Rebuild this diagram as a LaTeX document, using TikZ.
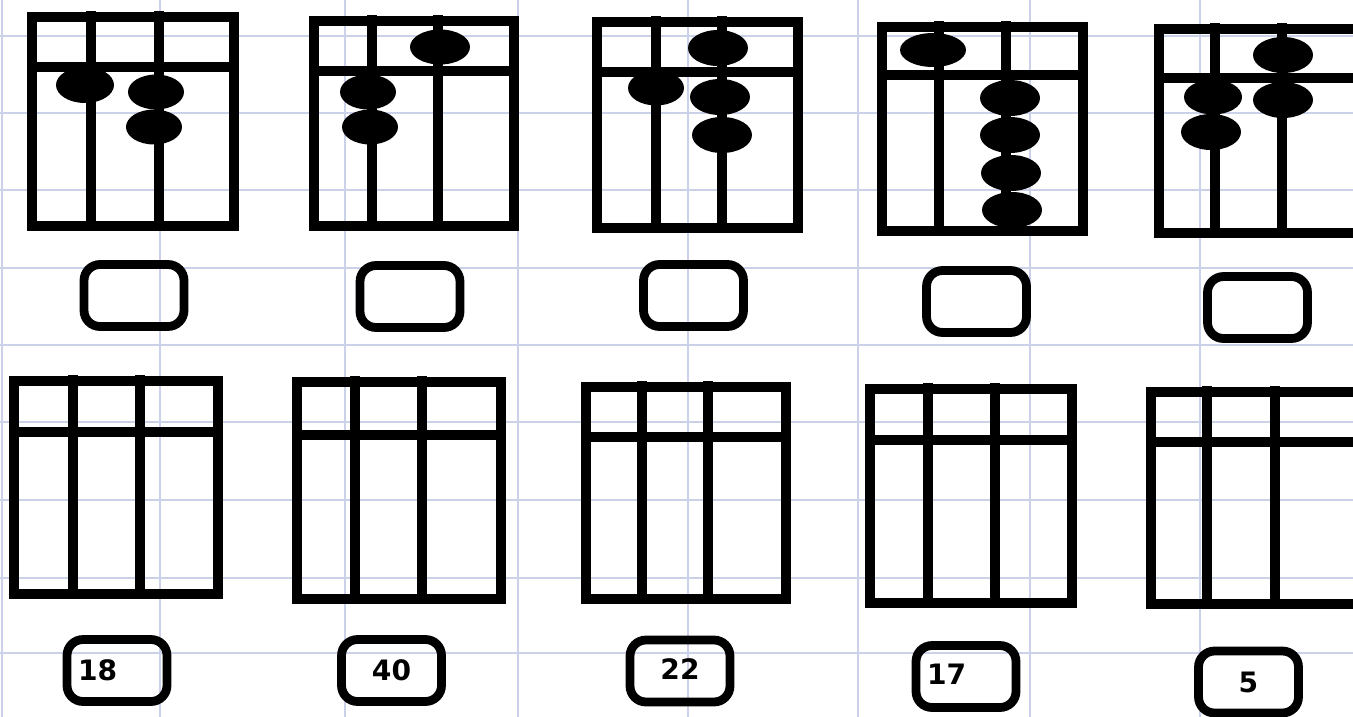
\documentclass[tikz,border=0pt]{standalone}
\usepackage{fontspec}
\setmainfont{DejaVu Sans}
\definecolor{SheetGrid}{RGB}{204,209,234}
\definecolor{InkBlack}{RGB}{0,0,0}
% frame: left, top, right, bottom, bar, rod a, rod b
\newcommand{\abacusframe}[7]{%
  \draw[frameline] (#1,#2) rectangle (#3,#4);
  \draw[frameline] (#1,#5) -- (#3,#5);
  \draw[frameline] (#6,#2-6) -- (#6,#4+4);
  \draw[frameline] (#7,#2-6) -- (#7,#4+4);
}
\begin{document}
\begin{tikzpicture}[
  x=0.02cm,y=-0.02cm,
  gridline/.style={draw=SheetGrid,line width=1.2pt},
  frameline/.style={draw=InkBlack,line width=5.5pt},
  bead/.style={fill=InkBlack},
  answerbox/.style={draw=InkBlack,line width=5pt,rounded corners=0.32cm,minimum width=2cm,minimum height=1.24cm,inner sep=0pt,font=\fontsize{16}{16}\selectfont\bfseries}
]
\useasboundingbox (0,0) rectangle (1353,717);
\clip (0,0) rectangle (1353,717);
\fill[white] (0,0) rectangle (1353,717);
% sheet grid
\foreach \gx in {2,160,345,518,688,858,1030,1200}
  \draw[gridline] (\gx,0) -- (\gx,717);
\foreach \gy in {36,113,190,268,345,422,500,578,653}
  \draw[gridline] (0,\gy) -- (1353,\gy);
% top row: abacus with beads
\abacusframe{32}{17}{234}{226}{67}{91}{159}
\fill[bead] (85,85) ellipse (0.58cm and 0.36cm);
\fill[bead] (156,92) ellipse (0.56cm and 0.35cm);
\fill[bead] (154,127) ellipse (0.56cm and 0.35cm);
\abacusframe{314}{21}{514}{226}{71}{372}{438}
\fill[bead] (368,92) ellipse (0.56cm and 0.35cm);
\fill[bead] (370,127) ellipse (0.56cm and 0.35cm);
\fill[bead] (440,47) ellipse (0.6cm and 0.35cm);
\abacusframe{597}{22}{798}{228}{72}{656}{722}
\fill[bead] (656,88) ellipse (0.56cm and 0.35cm);
\fill[bead] (718,48) ellipse (0.6cm and 0.36cm);
\fill[bead] (720,97) ellipse (0.6cm and 0.36cm);
\fill[bead] (722,135) ellipse (0.6cm and 0.36cm);
\abacusframe{882}{27}{1083}{231}{75}{939}{1006}
\fill[bead] (933,50) ellipse (0.66cm and 0.34cm);
\fill[bead] (1010,98) ellipse (0.6cm and 0.36cm);
\fill[bead] (1010,135) ellipse (0.6cm and 0.36cm);
\fill[bead] (1011,173) ellipse (0.6cm and 0.36cm);
\fill[bead] (1012,210) ellipse (0.6cm and 0.36cm);
\abacusframe{1159}{29}{1361}{233}{78}{1215}{1282}
\fill[bead] (1213,97) ellipse (0.58cm and 0.35cm);
\fill[bead] (1211,132) ellipse (0.6cm and 0.36cm);
\fill[bead] (1283,55) ellipse (0.6cm and 0.36cm);
\fill[bead] (1283,100) ellipse (0.6cm and 0.36cm);
% empty answer boxes
\node[answerbox] (top1) at (134,295.5) {};
\node[answerbox] (top2) at (410,296.5) {};
\node[answerbox] (top3) at (693.5,295.5) {};
\node[answerbox] (top4) at (976.5,301.5) {};
\node[answerbox] (top5) at (1257.5,307.5) {};
% bottom row: empty abacus
\abacusframe{14}{381}{218}{594}{432}{73}{140}
\abacusframe{297}{382}{501}{599}{435}{355}{422}
\abacusframe{586}{387}{786}{599}{437}{642}{708}
\abacusframe{870}{389}{1072}{603}{440}{928}{995}
\abacusframe{1151}{392}{1361}{604}{442}{1207}{1275}
% numbers to show
\node[answerbox,text width=1.56cm,align=left] (num1) at (117,670.5) {18};
\node[answerbox] (num2) at (391.5,670.5) {40};
\node[answerbox] (num3) at (680,671) {\raisebox{0.06cm}{22}};
\node[answerbox,text width=1.56cm,align=left] (num4) at (966,676.5) {\raisebox{0.11cm}{17}};
\node[answerbox] (num5) at (1248.5,682) {5};
\end{tikzpicture}
\end{document}
